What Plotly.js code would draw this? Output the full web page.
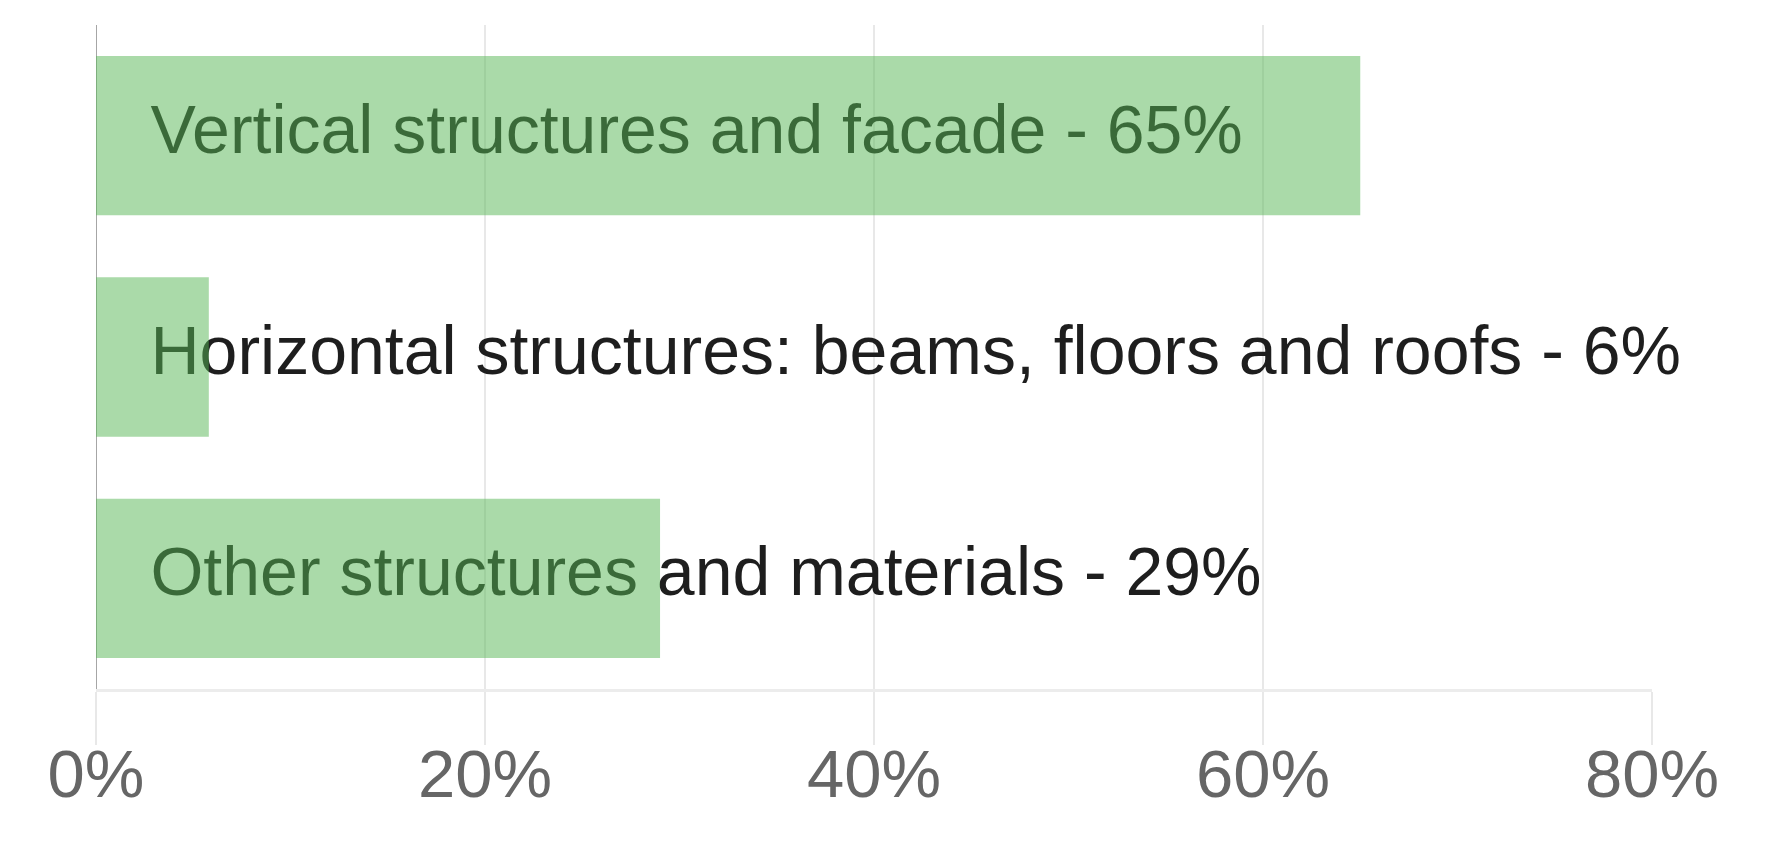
<!DOCTYPE html>
<html>
<head>
<meta charset="utf-8">
<script src="https://cdn.plot.ly/plotly-3.0.1.min.js"></script>
<style>
  html, body { margin: 0; padding: 0; background: #fff; }
  #chart { width: 1768px; height: 856px; }
</style>
</head>
<body>
<div id="chart"></div>
<script>
// Share of structures (percent), top to bottom
const categories = [
  "Vertical structures and facade",
  "Horizontal structures: beams, floors and roofs",
  "Other structures and materials"
];
const shares = [65, 5.8, 29];
const shareLabels = ["65%", "6%", "29%"];
const tickValues = [0, 20, 40, 60, 80];
const tickLabels = ["0%", "20%", "40%", "60%", "80%"];

const FONT = "Liberation Sans, Arial, sans-serif";
const LABEL_X = 2.8; // where the label text starts, in axis units
const X_RANGE = [0, 80];

const labelText = categories.map((c, i) => `${c} - ${shareLabels[i]}`);

// Text goes on the main subplot, bars on an overlay so the translucent
// green sits on top of the words (as in the original).
const labels = {
  type: "scatter",
  mode: "text",
  x: categories.map(() => LABEL_X),
  y: categories,
  text: labelText,
  textposition: "middle right",
  textfont: { family: FONT, size: 68, color: "#1e1e1e" },
  cliponaxis: false,
  hoverinfo: "skip",
  xaxis: "x",
  yaxis: "y"
};

const bars = {
  type: "bar",
  orientation: "h",
  x: shares,
  y: categories,
  marker: { color: "rgba(86,182,84,0.5)", line: { width: 0 } },
  hoverinfo: "skip",
  xaxis: "x2",
  yaxis: "y"
};

const layout = {
  width: 1768,
  height: 856,
  margin: { l: 96, r: 116, t: 25, b: 167 },
  paper_bgcolor: "#ffffff",
  plot_bgcolor: "#ffffff",
  showlegend: false,
  bargap: 0.28,
  xaxis: {
    range: X_RANGE,
    tickvals: tickValues,
    ticktext: tickLabels,
    tickfont: { family: FONT, size: 67, color: "#666666" },
    ticks: "outside",
    ticklen: 53,
    tickwidth: 2,
    tickcolor: "#e8e8e8",
    ticklabelstandoff: -28,
    showgrid: true,
    gridcolor: "#e8e8e8",
    gridwidth: 2,
    zeroline: false,
    showline: true,
    linecolor: "#ececec",
    linewidth: 3,
    fixedrange: true
  },
  xaxis2: {
    range: X_RANGE,
    overlaying: "x",
    visible: false,
    fixedrange: true
  },
  yaxis: {
    type: "category",
    autorange: "reversed",
    showticklabels: false,
    showgrid: false,
    zeroline: false,
    showline: false,
    fixedrange: true
  },
  shapes: [{
    // y axis line at 0%, running down through the tick
    type: "line",
    xref: "x", yref: "paper",
    x0: 0, x1: 0, y0: -0.08, y1: 1,
    line: { color: "#a6a6a6", width: 2 },
    layer: "below"
  }]
};

Plotly.newPlot("chart", [labels, bars], layout, { displayModeBar: false, staticPlot: true });
</script>
</body>
</html>
